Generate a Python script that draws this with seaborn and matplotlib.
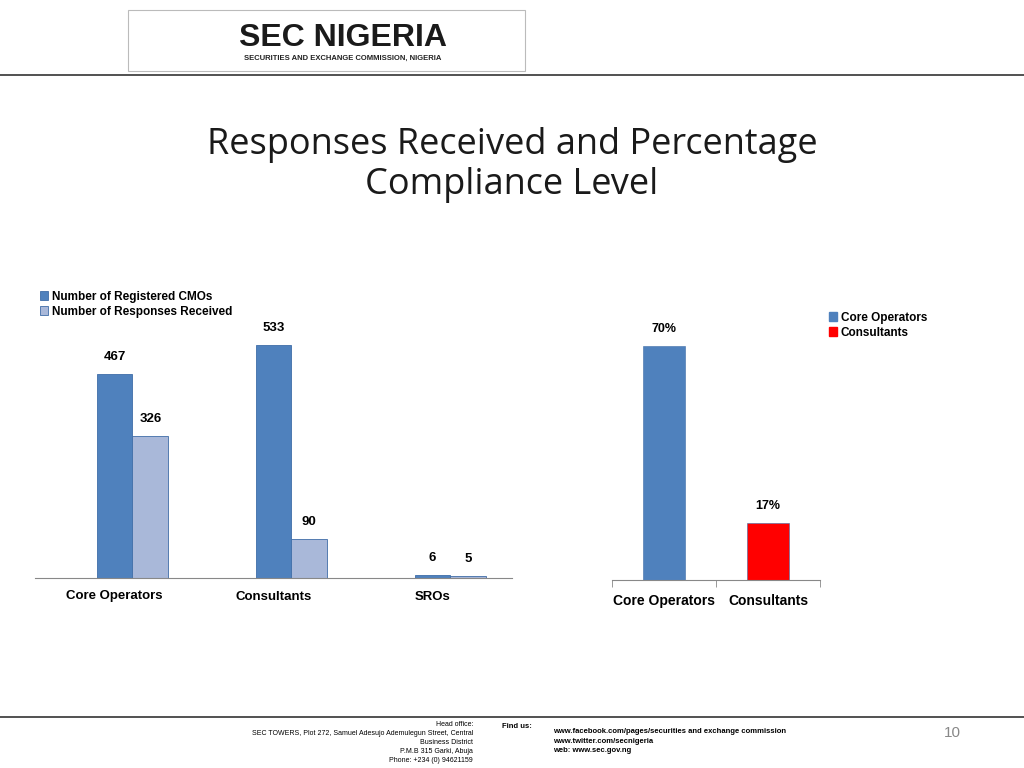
import matplotlib
matplotlib.use("Agg")
import matplotlib.pyplot as plt
import seaborn as sns
import pandas as pd

plt.rcParams["font.family"] = "Liberation Sans"

# data
groups = ["Core Operators", "Consultants", "SROs"]
registered = [467, 533, 6]
responses = [326, 90, 5]
compl_cats = ["Core Operators", "Consultants"]
compliance = [70, 17]

blue = "#4F81BD"
light = "#A9B8D9"
red = "#FF0000"

df = pd.DataFrame({
    "group": groups * 2,
    "value": registered + responses,
    "series": ["Number of Registered CMOs"] * 3 + ["Number of Responses Received"] * 3,
})
df2 = pd.DataFrame({"cat": compl_cats, "pct": compliance})

fig = plt.figure(figsize=(10.24, 7.68), dpi=100)
fig.patch.set_facecolor("white")

# header
fig.text(0.335, 0.95, "SEC NIGERIA", fontsize=23, fontweight="bold", color="#1a1a1a",
         ha="center", va="center")
fig.text(0.335, 0.924, "SECURITIES AND EXCHANGE COMMISSION, NIGERIA", fontsize=5.5,
         ha="center", va="center", color="#222222", fontweight="bold")
fig.add_artist(plt.Line2D([0.0, 1.0], [0.902, 0.902], color="#333333", lw=1.2))
fig.add_artist(plt.Rectangle((0.125, 0.907), 0.388, 0.08, fill=False, ec="#bbbbbb", lw=0.8))

# title
fig.text(0.5, 0.785, "Responses Received and Percentage\nCompliance Level", fontsize=26,
         ha="center", va="center", color="#1a1a1a", family="Open Sans", linespacing=1.15)

# left chart
ax1 = fig.add_axes([35 / 1024, 190 / 768, 477 / 1024, 262 / 768])
sns.barplot(data=df, x="group", y="value", hue="series", palette=[blue, light],
            width=0.45, ax=ax1, edgecolor="#3f6da8", linewidth=0.6, saturation=1)
for p in ax1.patches:
    p.set_x(p.get_x() + 0.113)
ax1.set_ylim(0, 600)
for cont in ax1.containers:
    ax1.bar_label(cont, padding=8, fontsize=9.5, fontweight="bold")
ax1.set_xlabel("")
ax1.set_ylabel("")
ax1.set_yticks([])
for s in ["top", "right", "left"]:
    ax1.spines[s].set_visible(False)
ax1.spines["bottom"].set_color("#888888")
ax1.tick_params(axis="x", length=0, pad=9, labelsize=9.5)
for t in ax1.get_xticklabels():
    t.set_fontweight("bold")
ax1.legend(loc="upper left", bbox_to_anchor=(0.0, 1.115), frameon=False,
           handlelength=0.7, handleheight=0.7, handletextpad=0.3, labelspacing=0.25,
           borderaxespad=0, prop={"weight": "bold", "size": 8.5})

# right chart
ax2 = fig.add_axes([612 / 1024, 188 / 768, 208 / 1024, 267 / 768])
sns.barplot(data=df2, x="cat", y="pct", hue="cat", palette=[blue, red], width=0.4,
            ax=ax2, legend=False, saturation=1, edgecolor="#3f6da8", linewidth=0.4)
ax2.set_ylim(0, 80)
for cont in ax2.containers:
    ax2.bar_label(cont, labels=[f"{v:.0f}%" for v in cont.datavalues], padding=8,
                  fontsize=9, fontweight="bold")
ax2.set_xlabel("")
ax2.set_ylabel("")
ax2.set_yticks([])
for s in ["top", "right", "left"]:
    ax2.spines[s].set_visible(False)
ax2.spines["bottom"].set_color("#888888")
ax2.set_xlim(-0.5, 1.5)
ax2.set_xticks([-0.5, 0.5, 1.5], minor=True)
ax2.tick_params(axis="x", which="minor", length=5, color="#888888")
ax2.tick_params(axis="x", which="major", length=0, pad=10, labelsize=10)
for t in ax2.get_xticklabels():
    t.set_fontweight("bold")
handles = [plt.Rectangle((0, 0), 1, 1, color=blue), plt.Rectangle((0, 0), 1, 1, color=red)]
fig.legend(handles, ["Core Operators", "Consultants"], loc="upper left",
           bbox_to_anchor=(824 / 1024, 1 - 307 / 768), frameon=False, borderaxespad=0,
           handlelength=0.7, handleheight=0.7, handletextpad=0.3, labelspacing=0.25,
           prop={"weight": "bold", "size": 8.5})

# footer
fig.add_artist(plt.Line2D([0.0, 1.0], [0.066, 0.066], color="#333333", lw=1.2))
fig.text(0.462, 0.033, "Head office:\nSEC TOWERS, Plot 272, Samuel Adesujo Ademulegun Street, Central\n"
         "Business District\nP.M.B 315 Garki, Abuja\nPhone: +234 (0) 94621159",
         fontsize=5, ha="right", va="center", linespacing=1.4)
fig.text(0.54, 0.035, "www.facebook.com/pages/securities and exchange commission\n"
         "www.twitter.com/secnigeria\nweb: www.sec.gov.ng", fontsize=5.5, fontweight="bold",
         ha="left", va="center", linespacing=1.5)
fig.text(0.49, 0.052, "Find us:", fontsize=5.5, fontweight="bold")
fig.text(0.938, 0.045, "10", fontsize=11, color="#888888", ha="right", va="center")

fig.savefig("out.png", dpi=100)
